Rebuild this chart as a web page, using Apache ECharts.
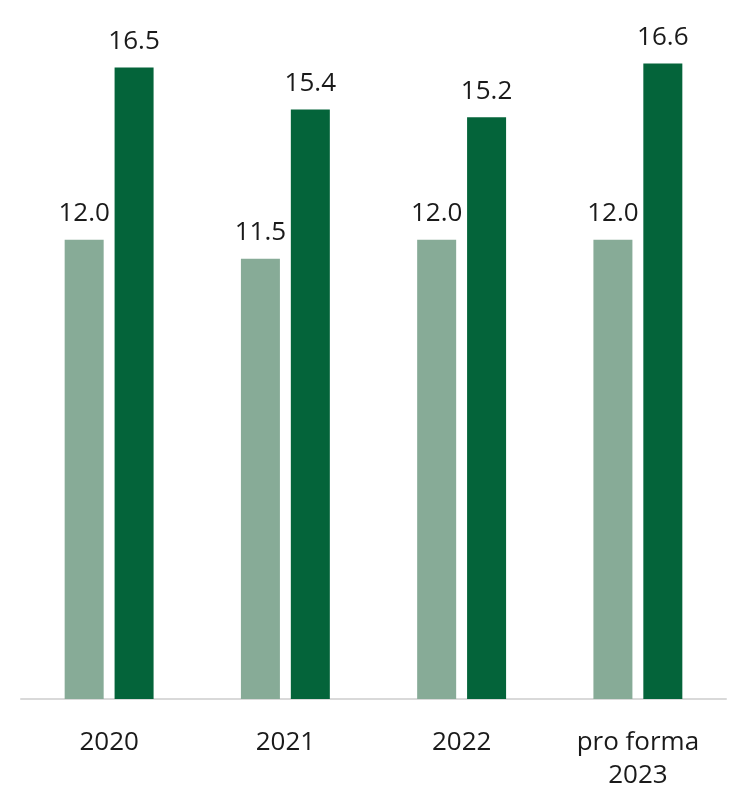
<!DOCTYPE html>
<html>
<head>
<meta charset="utf-8">
<script src="https://cdn.jsdelivr.net/npm/echarts@6/dist/echarts.min.js"></script>
<style>
  html, body { margin: 0; padding: 0; background: #fff; }
  #chart { width: 741px; height: 795px; }
</style>
</head>
<body>
<div id="chart"></div>
<script>
var categories = ['2020', '2021', '2022', 'pro forma\n2023'];
var seriesA = [12.0, 11.5, 12.0, 12.0];
var seriesB = [16.5, 15.4, 15.2, 16.6];

var chart = echarts.init(document.getElementById('chart'));

var labelStyle = {
  show: true,
  position: 'top',
  distance: 13,
  fontFamily: 'Open Sans',
  fontSize: 26,
  color: '#1a1a1a',
  formatter: function (p) { return p.value.toFixed(1); }
};

var option = {
  animation: false,
  grid: { left: 21, right: 15, top: 10, bottom: 96 },
  xAxis: {
    type: 'category',
    data: categories,
    axisLine: { lineStyle: { color: '#d9d9d9', width: 2 } },
    axisTick: { show: false },
    axisLabel: {
      margin: 27,
      fontFamily: 'Open Sans',
      fontSize: 26,
      lineHeight: 33,
      color: '#1a1a1a'
    }
  },
  yAxis: {
    type: 'value',
    min: 0,
    max: 18,
    show: false
  },
  series: [
    {
      name: 'A',
      type: 'bar',
      data: seriesA,
      barWidth: 39,
      barGap: '28%',
      itemStyle: { color: '#87ab97' },
      label: labelStyle
    },
    {
      name: 'B',
      type: 'bar',
      data: seriesB,
      barWidth: 39,
      barGap: '28%',
      itemStyle: { color: '#04643a' },
      label: labelStyle
    }
  ]
};

chart.setOption(option);
</script>
</body>
</html>
